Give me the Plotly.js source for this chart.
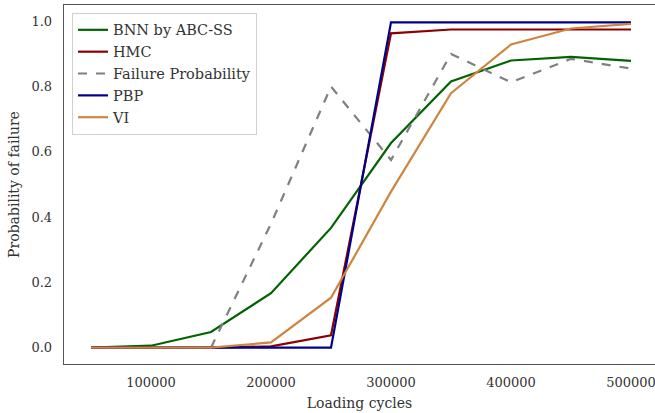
<!DOCTYPE html>
<html>
<head>
<meta charset="utf-8">
<script src="https://cdn.plot.ly/plotly-3.0.1.min.js"></script>
<style>html,body{margin:0;padding:0;overflow:hidden;background:#fff}#chart{width:655px;height:413px}</style>
</head>
<body>
<div id="chart"></div>
<script>
const cycles = [50000, 100000, 150000, 200000, 250000, 300000, 350000, 400000, 450000, 500000];
const bnnAbcSs = [0, 0.006, 0.048, 0.167, 0.367, 0.627, 0.816, 0.880, 0.891, 0.879];
const hmc = [0, 0, 0, 0.004, 0.038, 0.963, 0.975, 0.975, 0.975, 0.975];
const failX = [150000, 200000, 250000, 300000, 350000, 400000, 450000, 500000];
const failProb = [0, 0.38, 0.80, 0.575, 0.90, 0.813, 0.885, 0.855];
const pbp = [0, 0, 0, 0, 0, 0.997, 0.997, 0.997, 0.997, 0.997];
const vi = [0, 0, 0, 0.016, 0.153, 0.478, 0.780, 0.929, 0.978, 0.992];

const font = '"DejaVu Serif", serif';
const traces = [
  {x: cycles, y: bnnAbcSs, name: 'BNN by ABC-SS', mode: 'lines', line: {color: '#006400', width: 2.2}},
  {x: cycles, y: hmc, name: 'HMC', mode: 'lines', line: {color: '#8b0000', width: 2.2}},
  {x: failX, y: failProb, name: 'Failure Probability', mode: 'lines', line: {color: '#808080', width: 2.2, dash: 'dash'}},
  {x: cycles, y: pbp, name: 'PBP', mode: 'lines', line: {color: '#00008b', width: 2.2}},
  {x: cycles, y: vi, name: 'VI', mode: 'lines', line: {color: '#cd853f', width: 2.2}}
];
const layout = {
  width: 655, height: 413,
  margin: {l: 64, r: 0, t: 5, b: 49},
  paper_bgcolor: '#fff', plot_bgcolor: '#fff',
  font: {family: font, size: 13, color: '#333'},
  showlegend: true,
  legend: {x: 0.0135, y: 0.978, xanchor: 'left', yanchor: 'top', bgcolor: '#fff', bordercolor: '#d0d0d0', borderwidth: 1, font: {family: font, size: 14.5, color: '#333'}},
  xaxis: {
    range: [27500, 520000], tickvals: [100000, 200000, 300000, 400000, 500000],
    ticktext: ['100000', '200000', '300000', '400000', '500000'],
    showgrid: false, zeroline: false, showline: true, mirror: true, linecolor: '#555', linewidth: 1.3,
    ticks: '', ticklabelstandoff: 6, ticklabeloverflow: 'allow',
    title: {text: 'Loading cycles', font: {family: font, size: 14, color: '#333'}, standoff: 9}
  },
  yaxis: {
    range: [-0.05, 1.05], tickvals: [0, 0.2, 0.4, 0.6, 0.8, 1.0],
    ticktext: ['0.0', '0.2', '0.4', '0.6', '0.8', '1.0'],
    showgrid: false, zeroline: false, showline: true, linecolor: '#555', linewidth: 1.3,
    ticks: '', ticklabelstandoff: 8,
    title: {text: 'Probability of failure', font: {family: font, size: 14, color: '#333'}, standoff: 8}
  }
};
Plotly.newPlot('chart', traces, layout, {displayModeBar: false, staticPlot: true});
</script>
</body>
</html>
